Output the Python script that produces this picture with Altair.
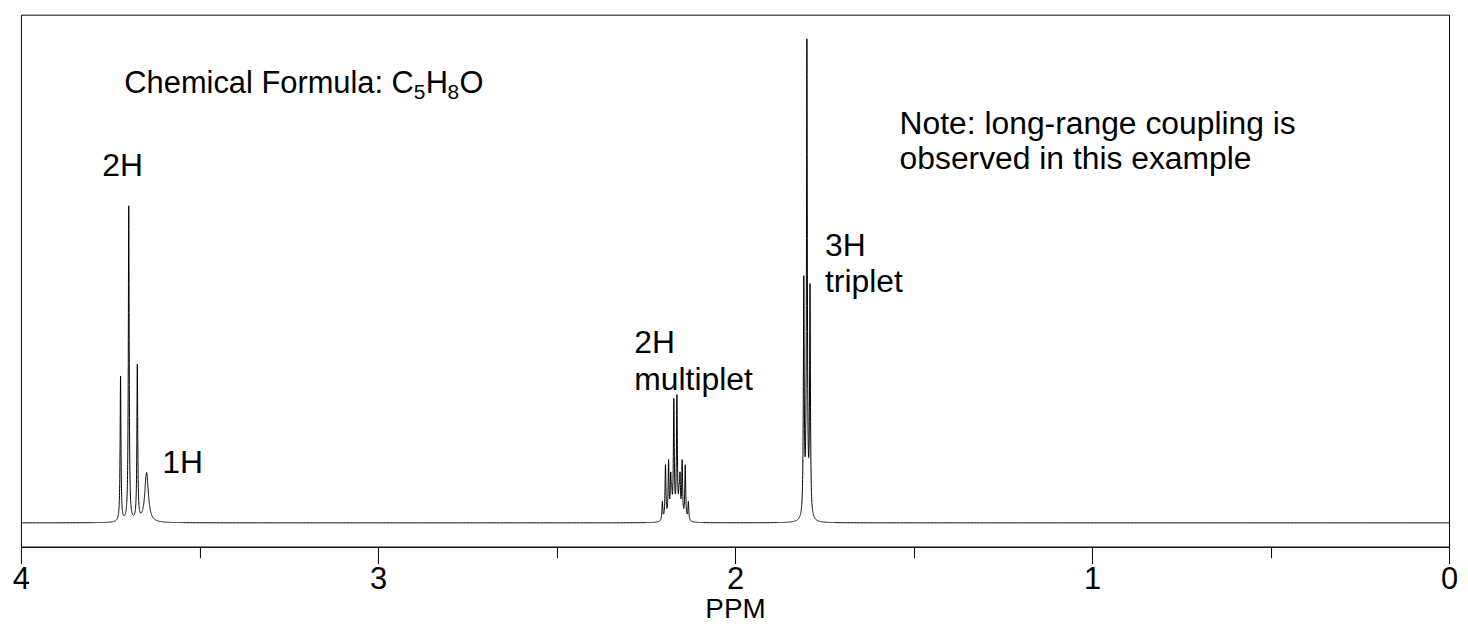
import altair as alt
import numpy as np
import pandas as pd

# ---- peak list (ppm, height in baseline-relative units, FWHM in ppm)
peak_ppm = [3.721, 3.698, 3.674, 3.648,
            2.2034, 2.1947, 2.1860, 2.1800, 2.1773, 2.1713,
            2.1627, 2.1567, 2.1540, 2.1480, 2.1393, 2.1306,
            1.8073, 1.7986, 1.7899]
peak_height = [146, 317, 156, 50,
               19, 55, 57, 38, 19, 118,
               122, 19, 38, 57, 55, 19,
               236, 475, 228]
peak_fwhm = [0.0028, 0.0028, 0.0028, 0.012,
             0.003, 0.003, 0.003, 0.003, 0.003, 0.003,
             0.003, 0.003, 0.003, 0.003, 0.003, 0.003,
             0.0028, 0.0028, 0.0028]

# ---- annotations (main text)
ann_text = ["Chemical Formula: C", "H", "O", "2H", "1H", "2H", "multiplet",
            "3H", "triplet", "Note: long-range coupling is", "observed in this example"]
ann_ppm = [3.7103, 2.8663, 2.7716, 3.772, 3.604, 2.282, 2.282, 1.748, 1.748, 1.539, 1.539]
ann_int = [432, 432, 432, 349, 50, 171, 134, 268, 232, 391, 356]
ann_size = [31, 31, 31, 32, 32, 32, 32, 32, 32, 32, 32]

# ---- subscripts of the formula
sub_text = ["5", "8"]
sub_ppm = [2.8997, 2.8050]
sub_int = [426, 426]

tick_values = [0, 0.5, 1, 1.5, 2, 2.5, 3, 3.5, 4]

# ---- sample the spectrum (Lorentzian lines)
grid = np.concatenate([
    np.arange(0.0, 4.0001, 0.004),
    np.arange(3.55, 3.80, 0.0002),
    np.arange(2.09, 2.25, 0.0002),
    np.arange(1.72, 1.88, 0.0002),
])
grid = np.unique(np.round(grid, 5))
inten = np.zeros_like(grid)
for p, h, w in zip(peak_ppm, peak_height, peak_fwhm):
    inten += h / (1.0 + ((grid - p) / (w / 2.0)) ** 2)
spec = pd.DataFrame({"ppm": grid, "intensity": inten})

ann = pd.DataFrame({"text": ann_text, "ppm": ann_ppm, "intensity": ann_int, "size": ann_size})
sub = pd.DataFrame({"text": sub_text, "ppm": sub_ppm, "intensity": sub_int})

FONT = "Liberation Sans"

xscale = alt.Scale(domain=[0, 4], reverse=True, nice=False, zero=False)
yscale = alt.Scale(domain=[-24, 511], nice=False, zero=False)

xaxis = alt.Axis(
    values=tick_values,
    labelExpr="datum.value % 1 === 0 ? '' + datum.value : ''",
    tickSize={"condition": {"test": "datum.value % 1 === 0", "value": 17}, "value": 11},
    tickColor="black", domainColor="black", tickWidth=1, domainWidth=1,
    labelFont=FONT, labelFontSize=31, labelColor="black", labelPadding=1,
    labelFlush=False, labelOverlap=False,
    title="PPM", titleFont=FONT, titleFontSize=28, titleFontWeight="normal",
    titleColor="black", titlePadding=1, grid=False,
)

line = alt.Chart(spec).mark_line(color="black", strokeWidth=1, clip=True).encode(
    x=alt.X("ppm:Q", scale=xscale, axis=xaxis),
    y=alt.Y("intensity:Q", scale=yscale, axis=None),
)

texts = alt.Chart(ann).mark_text(
    align="left", baseline="alphabetic", font=FONT, color="black"
).encode(
    x=alt.X("ppm:Q", scale=xscale),
    y=alt.Y("intensity:Q", scale=yscale),
    text="text:N",
    size=alt.Size("size:Q", scale=None, legend=None),
)

subs = alt.Chart(sub).mark_text(
    align="left", baseline="alphabetic", font=FONT, fontSize=21, color="black"
).encode(
    x=alt.X("ppm:Q", scale=xscale),
    y=alt.Y("intensity:Q", scale=yscale),
    text="text:N",
)

chart = alt.layer(line, texts, subs).properties(
    width=1436, height=535,
    autosize=alt.AutoSizeParams(type="none"),
    padding={"left": 13, "top": 5, "right": 11, "bottom": 79},
).configure(
    background="white",
    view=alt.ViewConfig(stroke="black", strokeWidth=1),
)

chart.save("out.html", embed_options={"renderer": "svg", "actions": False})
